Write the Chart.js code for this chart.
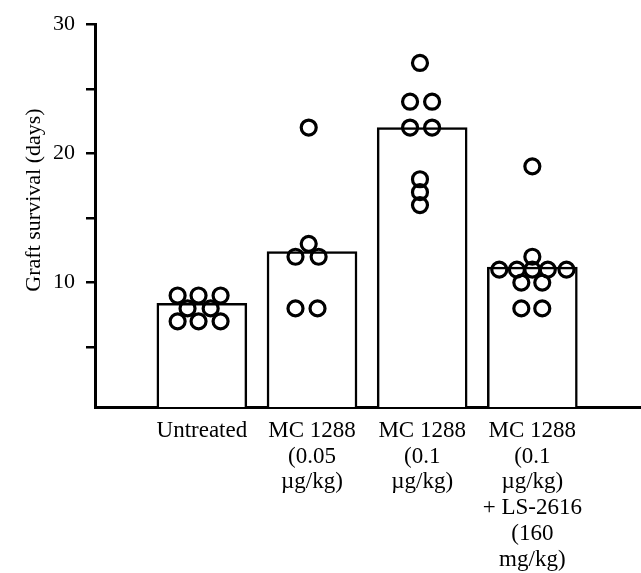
<!DOCTYPE html>
<html>
<head>
<meta charset="utf-8">
<script src="https://cdn.jsdelivr.net/npm/chart.js@4"></script>
<style>
  body { margin: 0; background: #fff; overflow: hidden; }
  /* a little wider than the window so the x axis runs to the right edge */
  #wrap { width: 651px; height: 573px; }
</style>
</head>
<body>
<div id="wrap"><canvas id="graftChart"></canvas></div>
<script>
  // categories (multi-line tick labels)
  var categories = [
    ['Untreated'],
    ['MC 1288', '(0.05', 'µg/kg)'],
    ['MC 1288', '(0.1', 'µg/kg)'],
    ['MC 1288', '(0.1', 'µg/kg)', '+ LS-2616', '(160', 'mg/kg)']
  ];

  // bar heights (days)
  var barValues = [8.4, 12.4, 22.0, 11.2];

  // individual graft survival (days) per group
  var untreated = [9, 9, 9, 8, 8, 7, 7, 7];
  var mc005 = [22, 13, 12, 12, 8, 8];
  var mc01 = [27, 24, 24, 22, 22, 18, 17, 16];
  var mcLs = [19, 12, 11, 11, 11, 11, 11, 10, 10, 8, 8];

  // horizontal spread of the dots inside each group
  var untreatedX = [-0.22, -0.03, 0.17, -0.13, 0.08, -0.22, -0.03, 0.17];
  var mc005X = [-0.03, -0.03, -0.15, 0.06, -0.15, 0.05];
  var mc01X = [-0.02, -0.11, 0.09, -0.11, 0.09, -0.02, -0.02, -0.02];
  var mcLsX = [0, 0, -0.3, -0.14, 0, 0.14, 0.31, -0.1, 0.09, -0.1, 0.09];

  // y ticks
  var yTicks = [5, 10, 15, 20, 25, 30];
  var yLabels = [10, 20, 30];
  var yTitle = 'Graft survival (days)';

  var groups = [untreated, mc005, mc01, mcLs];
  var spreads = [untreatedX, mc005X, mc01X, mcLsX];

  var dots = [];
  groups.forEach(function(vals, g) {
    vals.forEach(function(v, i) {
      dots.push({ x: g + spreads[g][i], y: v });
    });
  });

  var serif = '"Liberation Serif", "Times New Roman", serif';

  // y title sits a bit above the middle of the axis in the original
  var yTitlePlugin = {
    id: 'yTitle',
    afterDraw: function(chart) {
      var c = chart.ctx;
      c.save();
      c.translate(34, 200);
      c.rotate(-Math.PI / 2);
      c.font = '22px ' + serif;
      c.fillStyle = '#000';
      c.textAlign = 'center';
      c.textBaseline = 'middle';
      c.fillText(yTitle, 0, 0);
      c.restore();
    }
  };

  var ctx = document.getElementById('graftChart');
  var chart = new Chart(ctx, {
    data: {
      datasets: [
        {
          type: 'scatter',
          data: dots,
          pointStyle: 'circle',
          pointRadius: 7.5,
          pointBorderWidth: 3.2,
          pointBorderColor: '#000',
          pointBackgroundColor: 'rgba(0,0,0,0)',
          order: 0
        },
        {
          type: 'bar',
          data: barValues.map(function(v, i) { return { x: i, y: v }; }),
          backgroundColor: '#fff',
          borderColor: '#000',
          borderWidth: 2.5,
          barThickness: 90,
          order: 1
        }
      ]
    },
    plugins: [yTitlePlugin],
    options: {
      responsive: true,
      maintainAspectRatio: false,
      animation: false,
      layout: { padding: { top: 23, right: 0, bottom: 0, left: 0 } },
      plugins: {
        legend: { display: false },
        tooltip: { enabled: false }
      },
      scales: {
        x: {
          type: 'linear',
          offset: false,
          min: -0.97,
          max: 3.98,
          afterBuildTicks: function(scale) {
            scale.ticks = categories.map(function(c, i) { return { value: i }; });
          },
          afterFit: function(scale) { scale.height = 166; },
          grid: { display: false, drawTicks: false },
          border: { display: true, color: '#000', width: 3 },
          ticks: {
            autoSkip: false,
            maxRotation: 0,
            padding: 11,
            color: '#000',
            font: { family: serif, size: 23, lineHeight: 1.12 },
            callback: function(v) { return categories[v]; }
          }
        },
        y: {
          type: 'linear',
          min: 0.37,
          max: 30,
          afterBuildTicks: function(scale) {
            scale.ticks = yTicks.map(function(v) { return { value: v }; });
          },
          afterFit: function(scale) { scale.width = 95; },
          grid: {
            drawOnChartArea: false,
            drawTicks: true,
            tickLength: 9,
            color: '#000',
            lineWidth: 2.5
          },
          border: { display: true, color: '#000', width: 3 },
          ticks: {
            padding: 11,
            color: '#000',
            font: { family: serif, size: 22 },
            callback: function(v) { return yLabels.indexOf(v) >= 0 ? String(v) : ''; }
          }
        }
      }
    }
  });
</script>
</body>
</html>
